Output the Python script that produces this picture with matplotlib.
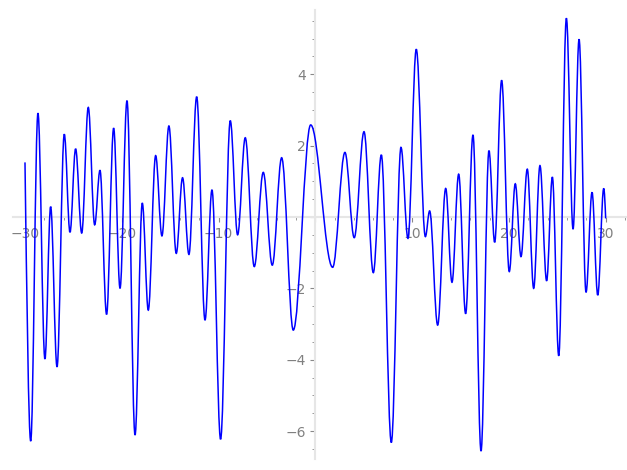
import matplotlib
matplotlib.use("Agg")
import matplotlib.pyplot as plt
from matplotlib.path import Path
from matplotlib.patches import PathPatch
from matplotlib.ticker import MultipleLocator, FuncFormatter

# Curve: start point, successive local extrema, end point
x_pts = [-30.0, -29.41, -28.66, -27.94, -27.35, -26.69, -25.94, -25.35, -24.77, -24.14,
         -23.46, -22.8, -22.25, -21.57, -20.84, -20.18, -19.46, -18.63, -17.88, -17.26,
         -16.5, -15.85, -15.13, -14.37, -13.72, -13.06, -12.26, -11.4, -10.68, -9.79,
         -8.79, -8.03, -7.24, -6.31, -5.38, -4.45, -3.48, -2.28, -0.48, 1.79,
         3.06, 4.02, 5.03, 5.99, 6.82, 7.85, 8.85, 9.57, 10.43, 11.37,
         11.81, 12.64, 13.47, 14.12, 14.81, 15.53, 16.29, 17.12, 17.94, 18.53,
         19.25, 20.04, 20.66, 21.25, 21.9, 22.56, 23.21, 23.9, 24.49, 25.15,
         25.94, 26.63, 27.25, 27.97, 28.59, 29.18, 29.8, 30.0]
y_pts = [1.53, -6.28, 2.91, -3.98, 0.29, -4.2, 2.32, -0.43, 1.91, -0.45,
         3.07, -0.22, 1.31, -2.73, 2.49, -2.0, 3.26, -6.11, 0.39, -2.61,
         1.72, -0.53, 2.55, -1.02, 1.10, -1.05, 3.37, -2.89, 0.76, -6.23,
         2.70, -0.50, 2.22, -1.39, 1.25, -1.35, 1.66, -3.17, 2.58, -1.41,
         1.81, -0.58, 2.39, -1.56, 1.74, -6.32, 1.95, -0.60, 4.70, -0.55,
         0.17, -3.03, 0.80, -1.83, 1.20, -2.71, 2.30, -6.56, 1.86, -0.71,
         3.83, -1.53, 0.93, -1.11, 1.34, -2.0, 1.44, -1.79, 1.12, -3.89,
         5.57, -0.34, 4.98, -2.11, 0.69, -2.19, 0.80, -0.04]

W, H = 627, 470
fig = plt.figure(figsize=(W / 100, H / 100), dpi=100)
left_px, right_px, top_px, bot_px = 12.7, 626.0, 10.0, 459.3
ax = fig.add_axes([left_px / W, 1 - bot_px / H, (right_px - left_px) / W, (bot_px - top_px) / H])
ax.set_xlim(-31.27, 32.1)
ax.set_ylim(-6.79, 5.80)

# smooth path through extrema (horizontal tangents at extrema)
k = 0.3634
verts = [(x_pts[0], y_pts[0])]
codes = [Path.MOVETO]
n = len(x_pts)
for i in range(n - 1):
    x0, y0 = x_pts[i], y_pts[i]
    x1, y1 = x_pts[i + 1], y_pts[i + 1]
    dx = x1 - x0
    if i == 0:
        c1 = (x0 + 0.3 * dx, y0 + 0.45 * (y1 - y0))
    else:
        c1 = (x0 + k * dx, y0)
    if i == n - 2:
        c2 = (x1 - 0.3 * dx, y1 - 0.45 * (y1 - y0))
    else:
        c2 = (x1 - k * dx, y1)
    verts += [c1, c2, (x1, y1)]
    codes += [Path.CURVE4, Path.CURVE4, Path.CURVE4]

ax.add_patch(PathPatch(Path(verts, codes), facecolor="none", edgecolor="blue",
                       linewidth=1.1, zorder=3))

# axes through the origin
for s in ["top", "right"]:
    ax.spines[s].set_visible(False)
ax.spines["left"].set_position(("data", 0))
ax.spines["bottom"].set_position(("data", 0))
for s in ["left", "bottom"]:
    ax.spines[s].set_color("#e6e6e6")
    ax.spines[s].set_linewidth(1.5)

ax.xaxis.set_major_locator(MultipleLocator(10))
ax.xaxis.set_minor_locator(MultipleLocator(2))
ax.yaxis.set_major_locator(MultipleLocator(2))
ax.yaxis.set_minor_locator(MultipleLocator(0.5))
fmt = FuncFormatter(lambda v, p: "" if abs(v) < 1e-9 else f"{v:g}".replace("-", "\u2212"))
ax.xaxis.set_major_formatter(fmt)
ax.yaxis.set_major_formatter(fmt)
ax.tick_params(which="both", colors="#888888", labelcolor="#808080", labelsize=10)

fig.savefig("out.png", dpi=100)
